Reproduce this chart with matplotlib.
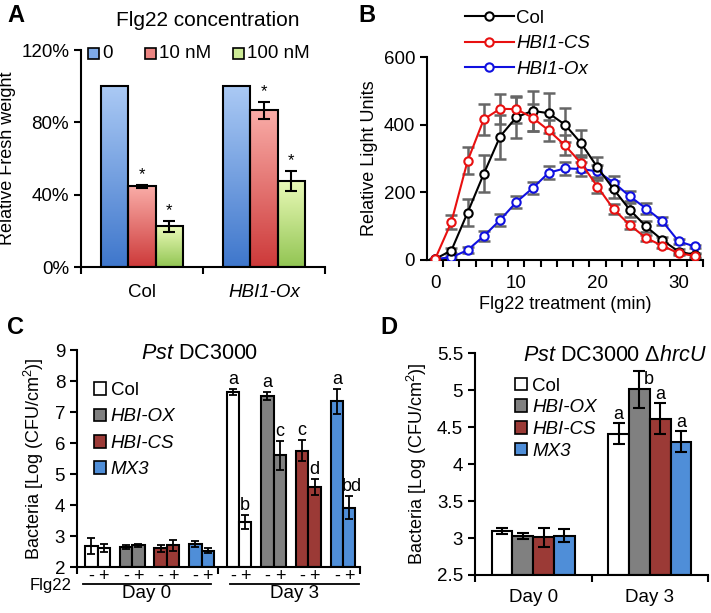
import numpy as np
import matplotlib
matplotlib.use("Agg")
import matplotlib.pyplot as plt
from matplotlib.patches import Patch, Rectangle
from matplotlib.lines import Line2D
from matplotlib.colors import LinearSegmentedColormap
from matplotlib.ticker import FuncFormatter

plt.rcParams['font.family'] = ['Liberation Sans', 'DejaVu Sans']
plt.rcParams['mathtext.fontset'] = 'custom'
plt.rcParams['mathtext.rm'] = 'Liberation Sans'
plt.rcParams['mathtext.it'] = 'Liberation Sans:italic'
plt.rcParams['font.size'] = 13

# ---- data: panel A (relative fresh weight, %)
a_genotypes = ['Col', 'HBI1-Ox']
a_conc = ['0', '10 nM', '100 nM']
a_vals = [[100, 44.6, 22.5], [100, 86.7, 47.7]]
a_errs = [[0, 1.0, 3.2], [0, 4.7, 5.5]]

# ---- data: panel B (relative light units)
b_time = [0, 2, 4, 6, 8, 10, 12, 14, 16, 18, 20, 22, 24, 26, 28, 30, 32]
b_col = [3, 28, 140, 255, 365, 422, 441, 434, 400, 345, 274, 209, 148, 99, 59, 25, 15]
b_cs = [3, 112, 293, 416, 447, 446, 421, 383, 339, 286, 217, 150, 103, 65, 42, 20, 12]
b_ox = [3, 8, 29, 71, 118, 171, 212, 258, 271, 269, 262, 229, 188, 152, 115, 55, 40]
b_col_err = [0, 8, 40, 55, 65, 60, 60, 60, 50, 40, 30, 25, 20, 15, 10, 8, 5]
b_cs_err = [0, 20, 40, 45, 45, 40, 40, 30, 30, 25, 20, 15, 12, 10, 8, 5, 5]
b_ox_err = [0, 5, 8, 15, 18, 18, 18, 20, 20, 20, 20, 18, 15, 15, 12, 8, 5]

# ---- data: panel C (Pst DC3000)
lines_cd = ['Col', 'HBI-OX', 'HBI-CS', 'MX3']
days = ['Day 0', 'Day 3']
c_d0_minus = [2.68, 2.65, 2.60, 2.75]
c_d0_plus = [2.60, 2.70, 2.70, 2.52]
c_d3_minus = [7.65, 7.52, 5.75, 7.35]
c_d3_plus = [3.45, 5.60, 4.58, 3.92]
c_d0_minus_err = [0.25, 0.07, 0.10, 0.10]
c_d0_plus_err = [0.13, 0.05, 0.18, 0.08]
c_d3_minus_err = [0.10, 0.12, 0.34, 0.40]
c_d3_plus_err = [0.22, 0.48, 0.27, 0.37]
c_d3_minus_lab = ['a', 'a', 'c', 'a']
c_d3_plus_lab = ['b', 'c', 'd', 'bd']

# ---- data: panel D (Pst DC3000 hrcU)
d_d0 = [3.09, 3.03, 3.01, 3.03]
d_d3 = [4.41, 5.01, 4.61, 4.30]
d_d0_err = [0.04, 0.04, 0.13, 0.09]
d_d3_err = [0.14, 0.25, 0.21, 0.14]
d_d3_lab = ['a', 'b', 'a', 'a']

bar_colors = ['white', '#808080', '#9b3a36', '#4f8ed8']
grad = [('#aac9f4', '#3f77cc'), ('#f9aca7', '#cd3a3a'), ('#eafab8', '#92c553')]
mid = ['#7eaae8', '#ec8582', '#cdeb96']


def clean(ax):
    for s in ['top', 'right']:
        ax.spines[s].set_visible(False)
    for s in ['left', 'bottom']:
        ax.spines[s].set_linewidth(1.5)


fig = plt.figure(figsize=(7.11, 6.13), dpi=100)

# ================= A =================
axA = fig.add_axes([0.114, 0.5644, 0.343, 0.354])
bw = 0.224
for g in range(2):
    for k in range(3):
        x = g + (k - 1) * bw
        v = a_vals[g][k]
        bar = axA.bar(x, v, bw, color='none', edgecolor='black', lw=1.5, zorder=3)[0]
        cmap = LinearSegmentedColormap.from_list('g', [grad[k][1], grad[k][0]])
        im = axA.imshow(np.linspace(0, 1, 100).reshape(-1, 1), cmap=cmap, aspect='auto',
                        extent=[x - bw / 2, x + bw / 2, 0, v], origin='lower', zorder=2)
        im.set_clip_path(bar)
        if a_errs[g][k] > 0:
            axA.errorbar(x, v, yerr=a_errs[g][k], color='black', capsize=4, lw=1.5,
                         capthick=1.5, zorder=4)
            axA.text(x, v + a_errs[g][k] + 1.5, '*', ha='center', va='bottom', fontsize=12)
axA.set_xlim(-0.5, 1.5)
axA.set_ylim(0, 120)
axA.set_yticks([0, 40, 80, 120])
axA.yaxis.set_major_formatter(FuncFormatter(lambda v, p: '%d%%' % v))
axA.set_xticks([0, 1])
axA.set_xticklabels(a_genotypes)
axA.get_xticklabels()[1].set_style('italic')
axA.tick_params(axis='x', length=0, pad=12, labelsize=13.5)
axA.set_xticks([-0.5, 0.5, 1.5], minor=True)
axA.tick_params(axis='x', which='minor', length=5, width=1.5, direction='out')
axA.tick_params(axis='y', length=5, width=1.5, direction='out', labelsize=13.5)
clean(axA)
axA.set_ylabel('Relative Fresh weight')
# legend row drawn by hand (squares + labels)
sq_w, sq_h = 11 / 244, 11 / 217
for k, xl in enumerate([0.029, 0.262, 0.623]):
    axA.add_patch(Rectangle((xl, 0.986 - sq_h / 2), sq_w, sq_h, transform=axA.transAxes,
                            facecolor=mid[k], edgecolor='black', lw=1.2, clip_on=False))
    axA.text(xl + sq_w + 0.012, 0.986, a_conc[k], transform=axA.transAxes, ha='left',
             va='center', fontsize=13.5)
fig.text(208 / 711, 1 - 20 / 613, 'Flg22 concentration', ha='center', va='center', fontsize=15)

# ================= B =================
axB = fig.add_axes([0.6006, 0.5759, 0.388, 0.331])
for vals, errs in [(b_ox, b_ox_err), (b_col, b_col_err), (b_cs, b_cs_err)]:
    axB.errorbar(b_time, vals, yerr=errs, fmt='none', ecolor='#666666', capsize=4, lw=1.8,
                 capthick=1.8, zorder=2)
for vals, col in [(b_ox, '#1010e0'), (b_col, 'black'), (b_cs, '#e81010')]:
    axB.plot(b_time, vals, '-o', color=col, mfc='white', mec=col, ms=6, mew=1.5, lw=1.5, zorder=3)
axB.set_xlim(-1, 33)
axB.set_ylim(0, 600)
axB.set_yticks([0, 200, 400, 600])
axB.set_xticks([0, 10, 20, 30])
axB.set_xticks(np.arange(1, 34, 2), minor=True)
axB.tick_params(axis='x', which='major', length=0, pad=11, labelsize=13.5)
axB.tick_params(axis='x', which='minor', length=5, width=1.5, direction='out')
axB.tick_params(axis='y', length=5, width=1.5, direction='out', labelsize=13.5)
clean(axB)
axB.set_xlabel('Flg22 treatment (min)', labelpad=3)
axB.set_ylabel('Relative Light Units')
hB = [Line2D([], [], color=c, marker='o', mfc='white', mec=c, ms=6, mew=1.5, lw=1.5)
      for c in ['black', '#e81010', '#1010e0']]
legB = fig.legend(hB, ['Col', 'HBI1-CS', 'HBI1-Ox'], loc='upper left',
                  bbox_to_anchor=(461 / 711, 1 - 6 / 613), frameon=False, handlelength=2.6,
                  handletextpad=0.15, labelspacing=0.45, fontsize=13.5, borderpad=0.2,
                  borderaxespad=0)
for t in legB.get_texts()[1:]:
    t.set_style('italic')

# ================= C =================
axC = fig.add_axes([0.1083, 0.075, 0.398, 0.354])
offs = [-0.355, -0.11, 0.135, 0.38]
cw = 0.088
groups = [(0, c_d0_minus, c_d0_plus, c_d0_minus_err, c_d0_plus_err),
          (1, c_d3_minus, c_d3_plus, c_d3_minus_err, c_d3_plus_err)]
xfm = axC.get_xaxis_transform()
for d, mv, pv, me, pe in groups:
    for i in range(4):
        for sgn, vals, errs in [(-1, mv, me), (1, pv, pe)]:
            x = d + offs[i] + sgn * cw / 2
            axC.bar(x, vals[i] - 2, cw, bottom=2, color=bar_colors[i], edgecolor='black',
                    lw=1.5, zorder=2)
            axC.errorbar(x, vals[i], yerr=errs[i], color='black', capsize=3, lw=1.3,
                         capthick=1.3, zorder=3)
            axC.text(x, -0.045, '-' if sgn < 0 else '+', transform=xfm, ha='center',
                     va='center', fontsize=13)
            if d == 1:
                lab = c_d3_minus_lab[i] if sgn < 0 else c_d3_plus_lab[i]
                axC.text(x + (0.02 if lab == 'bd' else 0), vals[i] + errs[i] + 0.03, lab,
                         ha='center', va='bottom', fontsize=13)
axC.text(-0.018, -0.083, 'Flg22', transform=axC.transAxes, ha='right', va='center', fontsize=12)
for x0, x1, lab in [(-0.46, 0.45, days[0]), (0.58, 1.49, days[1])]:
    axC.plot([x0, x1], [-0.078, -0.078], color='black', lw=1.3, transform=xfm, clip_on=False)
    axC.text((x0 + x1) / 2, -0.085, lab, transform=xfm, ha='center', va='top', fontsize=13.5)
axC.set_xlim(-0.5, 1.5)
axC.set_ylim(2, 9)
axC.set_yticks(range(2, 10))
axC.set_xticks([-0.5, 0.5, 1.5])
axC.set_xticklabels([])
axC.tick_params(axis='x', length=5, width=1.5, direction='out')
axC.tick_params(axis='y', length=5, width=1.5, direction='out', labelsize=13.5)
clean(axC)
axC.set_ylabel('Bacteria [Log (CFU/cm$^2$)]', labelpad=6)
axC.text(0.435, 0.985, r'$\it{Pst}$ DC3000', transform=axC.transAxes, ha='center',
         va='center', fontsize=15.5)
hC = [Patch(facecolor=c, edgecolor='black', lw=1.2) for c in bar_colors]
legC = axC.legend(hC, lines_cd, loc='upper left', bbox_to_anchor=(0.0, 0.93), frameon=False,
                  handlelength=0.65, handleheight=0.65, handletextpad=0.25, labelspacing=0.5,
                  fontsize=13.5)
for t in legC.get_texts()[1:]:
    t.set_style('italic')

# ================= D =================
axD = fig.add_axes([0.668, 0.062, 0.328, 0.362])
dw = 0.178
for d, vals, errs in [(0, d_d0, d_d0_err), (1, d_d3, d_d3_err)]:
    for i in range(4):
        x = d + (i - 1.5) * dw
        axD.bar(x, vals[i] - 2.5, dw, bottom=2.5, color=bar_colors[i], edgecolor='black',
                lw=1.5, zorder=2)
        axD.errorbar(x, vals[i], yerr=errs[i], color='black', capsize=4, lw=1.5,
                     capthick=1.5, zorder=3)
        if d == 1:
            if d_d3_lab[i] == 'b':
                axD.text(x + 0.08, vals[i] + errs[i] - 0.12, d_d3_lab[i], ha='center',
                         va='center', fontsize=13)
            else:
                axD.text(x, vals[i] + errs[i] + 0.01, d_d3_lab[i], ha='center',
                         va='bottom', fontsize=13)
axD.set_xlim(-0.5, 1.5)
axD.set_ylim(2.5, 5.5)
axD.set_yticks(np.arange(2.5, 5.6, 0.5))
axD.yaxis.set_major_formatter(FuncFormatter(lambda v, p: '%g' % v))
axD.set_xticks([0, 1])
axD.set_xticklabels(days)
axD.tick_params(axis='x', length=0, pad=10, labelsize=13.5)
axD.set_xticks([-0.5, 0.5, 1.5], minor=True)
axD.tick_params(axis='x', which='minor', length=5, width=1.5, direction='out')
axD.tick_params(axis='y', length=5, width=1.5, direction='out', labelsize=13.5)
clean(axD)
axD.set_ylabel('Bacteria [Log (CFU/cm$^2$)]', labelpad=6)
axD.text(0.996, 0.99, r'$\it{Pst}$ DC3000 $\it{\Delta hrcU}$', transform=axD.transAxes,
         ha='right', va='center', fontsize=15.5)
legD = axD.legend(hC, lines_cd, loc='upper left', bbox_to_anchor=(0.10, 0.966), frameon=False,
                  handlelength=0.65, handleheight=0.65, handletextpad=0.25, labelspacing=0.25,
                  fontsize=13.5)
for t in legD.get_texts()[1:]:
    t.set_style('italic')

# panel letters
for lab, x, y in [('A', 7, 15), ('B', 358, 15), ('C', 7, 328), ('D', 380, 327)]:
    fig.text(x / 711, 1 - y / 613, lab, fontsize=17, fontweight='bold', ha='left', va='center')

fig.savefig('out.png', dpi=100)
